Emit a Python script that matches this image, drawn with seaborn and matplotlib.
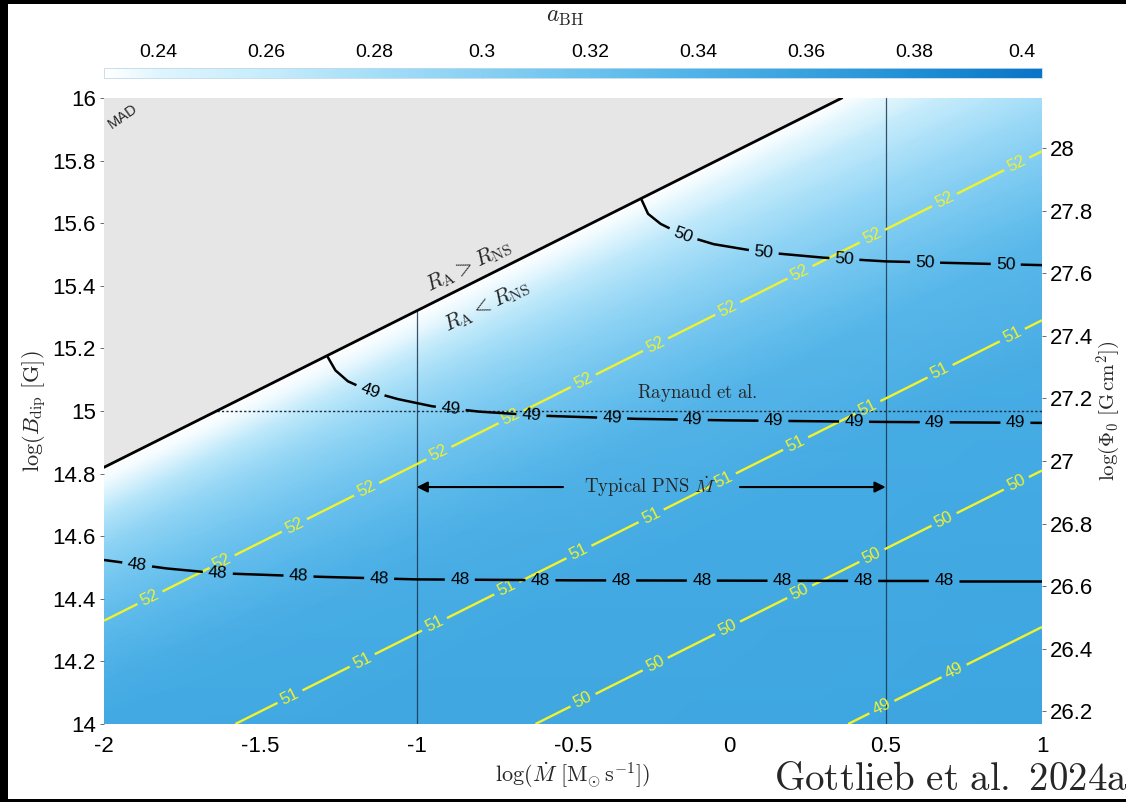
import numpy as np
import matplotlib
matplotlib.use("Agg")
import matplotlib.pyplot as plt
import seaborn as sns
from matplotlib.colors import LinearSegmentedColormap, Normalize
from matplotlib.patches import Polygon, Rectangle
from matplotlib.ticker import FuncFormatter, FixedLocator
from matplotlib.cm import ScalarMappable

# ---------------- data ----------------
mdot_lim = [-2.0, 1.0]
bdip_lim = [14.0, 16.0]
phi_offset = 12.16                      # log Phi0 = log B_dip + offset

mad_mdot = [-2.0, 0.36]                 # R_A = R_NS boundary
mad_bdip = [14.82, 16.0]

pns_mdot = [-1.0, 0.5]                  # typical PNS Mdot range
raynaud_bdip = 15.0

yellow_levels = [49, 50, 51, 52]
yellow_b0 = [13.81, 14.31, 14.79, 15.33]   # log B_dip at log Mdot = 0
yellow_slope = 0.5

c48_mdot = [-2.0, -1.8, -1.64, -1.3, -1.0, -0.5, 0.0, 0.5, 1.0]
c48_bdip = [14.524, 14.497, 14.482, 14.470, 14.462, 14.459, 14.458, 14.457, 14.457]
c49_mdot = [-1.287, -1.26, -1.22, -1.15, -1.06, -0.95, -0.8, -0.6, -0.3, 0.0, 0.5, 1.0]
c49_bdip = [15.177, 15.130, 15.095, 15.063, 15.038, 15.015, 14.998, 14.985, 14.975, 14.970, 14.965, 14.962]
c50_mdot = [-0.283, -0.26, -0.22, -0.15, -0.05, 0.1, 0.3, 0.5, 1.0]
c50_bdip = [15.680, 15.630, 15.598, 15.563, 15.533, 15.508, 15.490, 15.478, 15.466]

# a_BH versus depth below the MAD boundary, at the left and right edges
depth_nodes = [0.0, 0.04, 0.15, 0.25, 0.36, 0.46, 0.57, 0.68, 0.78, 1.2, 2.5]
abh_left = [0.23, 0.234, 0.272, 0.296, 0.313, 0.326, 0.336, 0.345, 0.350, 0.356, 0.358]
abh_right = [0.23, 0.236, 0.255, 0.270, 0.285, 0.298, 0.310, 0.322, 0.332, 0.347, 0.357]

cbar_lim = [0.23, 0.4037]
cbar_ticks = [0.24, 0.26, 0.28, 0.30, 0.32, 0.34, 0.36, 0.38, 0.40]
cmap_vals = [0.23, 0.24, 0.26, 0.28, 0.30, 0.32, 0.34, 0.36, 0.38, 0.4037]
cmap_cols = ["#ffffff", "#def5fe", "#c5ecfb", "#a5def8", "#88d0f3",
             "#6ac2ee", "#4fb2e8", "#38a2de", "#1f8fd5", "#0a74c6"]

# ---------------- style ----------------
sns.set_theme(style="white")
plt.rcParams["font.family"] = ["Liberation Sans", "DejaVu Sans"]
plt.rcParams["mathtext.fontset"] = "cm"

W, H = 1126, 802
fig = plt.figure(figsize=(W / 100, H / 100), dpi=100)
fig.patch.set_facecolor("white")

def fx(px):
    return px / W

def fy(py):
    return 1 - py / H

ax = fig.add_axes([fx(104), fy(724), fx(1042) - fx(104), fy(98) - fy(724)])
ax.set_facecolor("white")

norm = Normalize(cbar_lim[0], cbar_lim[1])
pos = [(v - cbar_lim[0]) / (cbar_lim[1] - cbar_lim[0]) for v in cmap_vals]
cmap = LinearSegmentedColormap.from_list("abh", list(zip(pos, cmap_cols)))

# boundary line via seaborn
sns.lineplot(x=mad_mdot, y=mad_bdip, ax=ax, color="black", linewidth=2.0,
             zorder=5, sort=False)
ax.set_xlim(*mdot_lim)
ax.set_ylim(*bdip_lim)

slope_mad = (mad_bdip[1] - mad_bdip[0]) / (mad_mdot[1] - mad_mdot[0])

def mad_line(x):
    return mad_bdip[0] + slope_mad * (np.asarray(x) - mad_mdot[0])

# colour field (gouraud shaded between read nodes)
d = np.asarray(depth_nodes)
Xm = np.tile([mdot_lim[0] - 0.05, mdot_lim[1] + 0.05], (len(d), 1))
Ym = mad_line(Xm) - d[:, None]
Cm = np.column_stack([abh_left, abh_right])
ax.pcolormesh(Xm, Ym, Cm, shading="gouraud", cmap=cmap, norm=norm, zorder=0)

# MAD region
xa, xb = mdot_lim[0] - 0.1, mad_mdot[1] + 0.3
ax.add_patch(Polygon([(xa, float(mad_line(xa))), (xb, float(mad_line(xb))),
                      (xb, 16.3), (xa, 16.3)], closed=True,
                     facecolor="#e6e6e6", edgecolor="none", zorder=1))

# vertical PNS lines and Raynaud line
for xv in pns_mdot:
    ytop = min(bdip_lim[1], float(mad_line(xv)))
    ax.plot([xv, xv], [bdip_lim[0], ytop], color="#1b3550", lw=0.9,
            alpha=0.85, zorder=2)
x_r0 = (raynaud_bdip - mad_bdip[0]) / slope_mad + mad_mdot[0]
ax.plot([x_r0, mdot_lim[1]], [raynaud_bdip, raynaud_bdip], color="#1b2b3b",
        lw=1.0, linestyle=(0, (1.6, 1.6)), zorder=2)


def labeled_line(xs, ys, lab_xs, text, color, lw, fs, half_gap=15, z=3):
    xs = np.asarray(xs, float)
    ys = np.asarray(ys, float)
    P = ax.transData.transform(np.column_stack([xs, ys]))
    seg = np.hypot(np.diff(P[:, 0]), np.diff(P[:, 1]))
    s = np.r_[0, np.cumsum(seg)]
    s_lab = np.interp(lab_xs, xs, s)
    pieces = []
    start = 0.0
    for sl in sorted(s_lab):
        pieces.append((start, sl - half_gap))
        start = sl + half_gap
    pieces.append((start, s[-1]))
    inv = ax.transData.inverted()
    for a, b in pieces:
        a = max(a, 0.0)
        b = min(b, s[-1])
        if b <= a:
            continue
        inner = (s > a) & (s < b)
        ss = np.r_[a, s[inner], b]
        D = inv.transform(np.column_stack([np.interp(ss, s, P[:, 0]),
                                           np.interp(ss, s, P[:, 1])]))
        ax.plot(D[:, 0], D[:, 1], color=color, lw=lw, zorder=z,
                solid_capstyle="butt")
    for sl in s_lab:
        px = np.interp(sl, s, P[:, 0])
        py = np.interp(sl, s, P[:, 1])
        dx = np.interp(sl + 3, s, P[:, 0]) - np.interp(sl - 3, s, P[:, 0])
        dy = np.interp(sl + 3, s, P[:, 1]) - np.interp(sl - 3, s, P[:, 1])
        ang = np.degrees(np.arctan2(dy, dx))
        if ang > 90:
            ang -= 180
        if ang < -90:
            ang += 180
        xd, yd = inv.transform((px, py))
        ax.text(xd, yd, text, rotation=ang, rotation_mode="anchor",
                ha="center", va="center", color=color, fontsize=fs, zorder=z + 1)


# yellow contour lines
yellow_col = "#f0f22c"
yellow_label_start = [0.488, -0.468, -1.405, -1.853]
for lev, b0, x_st in zip(yellow_levels, yellow_b0, yellow_label_start):
    x0 = max(mdot_lim[0], (bdip_lim[0] - b0) / yellow_slope)
    x1 = min(mdot_lim[1], (bdip_lim[1] - b0) / yellow_slope)
    xs = np.array([x0, x1])
    ys = b0 + yellow_slope * xs
    labs = np.arange(x_st, x1 - 0.07, 0.231)
    labeled_line(xs, ys, labs, str(lev), yellow_col, 1.7, 12, half_gap=14, z=3)

# black contour lines
black_sets = [(c48_mdot, c48_bdip, "48", -1.894, 11),
              (c49_mdot, c49_bdip, "49", -1.149, 9),
              (c50_mdot, c50_bdip, "50", -0.148, 5)]
for xs, ys, txt, st, n in black_sets:
    labs = st + 0.258 * np.arange(n)
    labeled_line(xs, ys, labs, txt, "black", 1.8, 12.5, half_gap=15, z=4)

# annotations
p0 = ax.transData.transform((0, 0))
p1 = ax.transData.transform((1, slope_mad))
ang_b = np.degrees(np.arctan2(p1[1] - p0[1], p1[0] - p0[0]))
ax.text(-0.835, 15.462, r"$R_{\rm A} > R_{\rm NS}$", rotation=ang_b,
        rotation_mode="anchor", ha="center", va="center", fontsize=16, zorder=6)
ax.text(-0.775, 15.335, r"$R_{\rm A} < R_{\rm NS}$", rotation=ang_b,
        rotation_mode="anchor", ha="center", va="center", fontsize=16, zorder=6)
ax.text(-1.94, 15.94, "MAD", rotation=35, rotation_mode="anchor",
        ha="center", va="center", fontsize=10.5, zorder=6)
ax.text(-0.104, 15.058, r"$\mathrm{Raynaud\ et\ al.}$", ha="center",
        va="center", fontsize=13.5, zorder=6)
y_arr = 14.757
ax.text(-0.254, y_arr, r"$\mathrm{Typical\ PNS}\ \dot{M}$", ha="center",
        va="center", fontsize=13.5, zorder=6)
ax.annotate("", xy=(pns_mdot[0], y_arr), xytext=(-0.532, y_arr),
            arrowprops=dict(arrowstyle="-|>", color="black", lw=1.5,
                            mutation_scale=16, shrinkA=0, shrinkB=0), zorder=6)
ax.annotate("", xy=(pns_mdot[1], y_arr), xytext=(0.034, y_arr),
            arrowprops=dict(arrowstyle="-|>", color="black", lw=1.5,
                            mutation_scale=16, shrinkA=0, shrinkB=0), zorder=6)

# axes cosmetics
for sp in ax.spines.values():
    sp.set_visible(False)
fmt = FuncFormatter(lambda v, _: f"{round(v, 2):g}")
ax.xaxis.set_major_locator(FixedLocator([-2, -1.5, -1, -0.5, 0, 0.5, 1]))
ax.yaxis.set_major_locator(FixedLocator(np.round(np.arange(14, 16.01, 0.2), 1)))
ax.xaxis.set_major_formatter(fmt)
ax.yaxis.set_major_formatter(fmt)
ax.tick_params(axis="x", length=0, labelsize=16, pad=9, colors="black")
ax.tick_params(axis="y", direction="out", length=3, width=0.6, color="#555555",
               labelsize=16, pad=3, labelcolor="black", left=True)
ax.set_xlabel(r"$\log(\dot{M}\ [{\rm M}_{\odot}\,{\rm s}^{-1}])$", fontsize=16,
              labelpad=2)
ax.set_ylabel(r"$\log(B_{\rm dip}\ [{\rm G}])$", fontsize=16, labelpad=3)

ax2 = ax.twinx()
ax2.set_ylim(bdip_lim[0] + phi_offset, bdip_lim[1] + phi_offset)
ax2.yaxis.set_major_locator(FixedLocator(np.round(np.arange(26.2, 28.01, 0.2), 1)))
ax2.yaxis.set_major_formatter(fmt)
for sp in ax2.spines.values():
    sp.set_visible(False)
ax2.tick_params(axis="y", direction="out", length=3, width=0.6, color="#555555",
                labelsize=16, pad=3, labelcolor="black", right=True)
ax2.set_ylabel(r"$\log(\Phi_0\ [{\rm G\,cm}^2])$", fontsize=15, labelpad=1)
ax2.grid(False)
ax.grid(False)

# colorbar
cax = fig.add_axes([fx(104), fy(78), fx(1042) - fx(104), fy(68) - fy(78)])
sm = ScalarMappable(norm=norm, cmap=cmap)
cb = fig.colorbar(sm, cax=cax, orientation="horizontal")
cb.set_ticks(cbar_ticks)
cax.xaxis.set_major_formatter(fmt)
cax.xaxis.set_ticks_position("top")
cax.tick_params(axis="x", direction="in", length=7.2, width=0.6,
                color="#3a5a70", labelsize=14, pad=5, labelcolor="black")
cb.outline.set_edgecolor("#c0d8e8")
cb.outline.set_linewidth(0.6)
fig.text(fx(565), fy(17), r"$a_{\rm BH}$", ha="center", va="center", fontsize=17)

# credit text
fig.text(fx(1128), fy(790), r"$\mathrm{Gottlieb\ et\ al.\ 2024a}$", ha="right",
         va="baseline", fontsize=28)

# black frame of the screenshot
for r in [(0, 0, 8, H), (0, 0, W, 4), (0, H - 3, W, 3)]:
    fig.patches.append(Rectangle((fx(r[0]), fy(r[1] + r[3])), fx(r[2]),
                                 r[3] / H, transform=fig.transFigure,
                                 facecolor="black", edgecolor="none", zorder=10))

fig.savefig("out.png", dpi=100)
